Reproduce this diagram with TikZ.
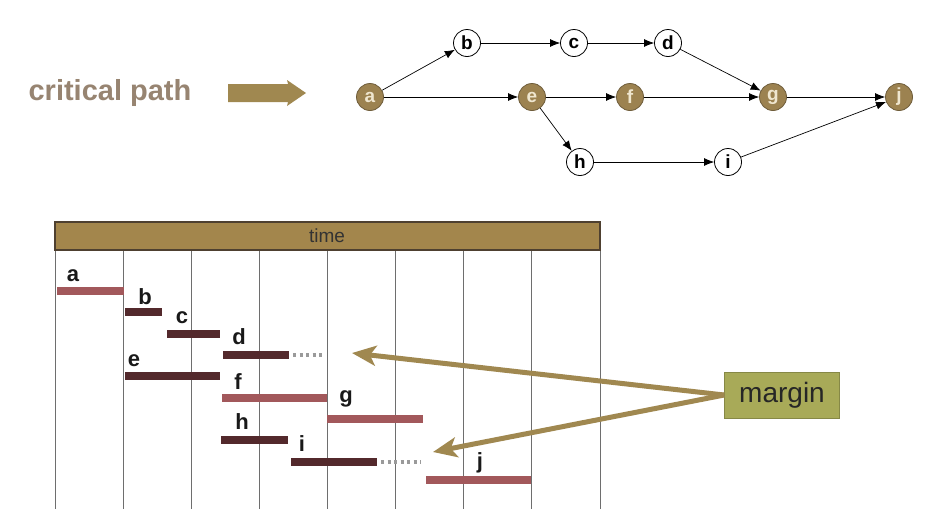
\documentclass[tikz,border=0pt]{standalone}
\usepackage{fontspec}
\setmainfont{Liberation Sans}
\usetikzlibrary{arrows.meta}

\definecolor{pathtan}{HTML}{A08850}
\definecolor{nodebrown}{HTML}{9C8250}
\definecolor{nodeedge}{HTML}{6E5C3A}
\definecolor{cream}{HTML}{EFE6CF}
\definecolor{titlegrey}{HTML}{978471}
\definecolor{critbar}{HTML}{A2585B}
\definecolor{slackbar}{HTML}{53292C}
\definecolor{headbrown}{HTML}{A3864C}
\definecolor{headedge}{HTML}{4E4030}
\definecolor{gridgrey}{HTML}{6E6E6E}
\definecolor{marginfill}{HTML}{A8AA58}
\definecolor{floatgrey}{HTML}{9A9A9A}

\tikzset{
  task/.style={circle, draw=black, line width=0.8pt, fill=white, minimum size=27pt,
    inner sep=0pt, font=\bfseries\fontsize{19}{19}\selectfont},
  crittask/.style={task, draw=nodeedge, fill=nodebrown, text=cream},
  link/.style={-{Latex[length=10pt,width=8pt]}, line width=0.7pt},
  gridline/.style={draw=gridgrey, line width=0.9pt},
  critfill/.style={fill=critbar},
  slackfill/.style={fill=slackbar},
  barlabel/.style={inner sep=0pt, font=\bfseries\fontsize{22}{22}\selectfont, text=black!90},
  float/.style={draw=floatgrey, line width=3.5pt, dash pattern=on 3pt off 3.5pt},
  pointer/.style={draw=pathtan, line width=5pt,
    -{Stealth[length=24pt,width=20pt,inset=6pt]}},
}

\begin{document}
\begin{tikzpicture}[x=1pt,y=-1pt]
\path[use as bounding box, fill=white] (0,0) rectangle (928,509);

% ---------- network of activities ----------
\node[inner sep=0pt, text=titlegrey, font=\bfseries\fontsize{29}{29}\selectfont]
  (title) at (110,93) {critical path};
\fill[pathtan] (228,84) -- (288,84) -- (287,80) -- (306,93) -- (287,106)
  -- (288,102) -- (228,102) -- cycle;

\node[crittask] (a) at (370,97) {a};
\node[task]     (b) at (467,43) {b};
\node[task]     (c) at (574,43) {c};
\node[task]     (d) at (668,43) {d};
\node[crittask] (e) at (532,97) {e};
\node[crittask] (f) at (630,97) {f};
\node[crittask] (g) at (773,97) {g};
\node[crittask] (j) at (899,97) {j};
\node[task]     (h) at (580,162) {h};
\node[task]     (i) at (728,162) {i};

\draw[link] (a) -- (b);
\draw[link] (b) -- (c);
\draw[link] (c) -- (d);
\draw[link] (d) -- (g);
\draw[link] (a) -- (e);
\draw[link] (e) -- (f);
\draw[link] (f) -- (g);
\draw[link] (g) -- (j);
\draw[link] (e) -- (h);
\draw[link] (h) -- (i);
\draw[link] (i) -- (j);

% ---------- time chart ----------
\foreach \gx in {55,123,191,259,327,395,463,531,600}
  \draw[gridline] (\gx,250) -- (\gx,509);
\draw[headedge, line width=1.2pt, fill=headbrown] (55,222) rectangle (600,250);
\node[inner sep=0pt, text=black!80, font=\fontsize{19}{19}\selectfont]
  (timehead) at (327,236) {time};

% activity bars
\fill[critfill]  (57,287)  rectangle (124,295);
\fill[slackfill] (125,308) rectangle (162,316);
\fill[slackfill] (167,330) rectangle (220,338);
\fill[slackfill] (223,351) rectangle (289,359);
\fill[slackfill] (125,372) rectangle (220,380);
\fill[critfill]  (222,394) rectangle (327,402);
\fill[critfill]  (327,415) rectangle (423,423);
\fill[slackfill] (221,436) rectangle (288,444);
\fill[slackfill] (291,458) rectangle (377,466);
\fill[critfill]  (426,476) rectangle (531,484);

% slack shown as dotted extensions
\draw[float] (293,355) -- (324,355);
\draw[float] (381,462) -- (421,462);

\node[barlabel] (la) at (73,276)  {a};
\node[barlabel] (lb) at (145,297) {b};
\node[barlabel] (lc) at (182,318) {c};
\node[barlabel] (ld) at (239,337) {d};
\node[barlabel] (le) at (134,361) {e};
\node[barlabel] (lf) at (238,382) {f};
\node[barlabel] (lg) at (346,399) {g};
\node[barlabel] (lh) at (242,422) {h};
\node[barlabel] (li) at (302,444) {i};
\node[barlabel] (lj) at (480,463) {j};

% margin callout
\node[fill=marginfill, draw=marginfill!80!black, line width=0.6pt,
  minimum width=115pt, minimum height=46pt, inner sep=0pt,
  font=\fontsize{28}{28}\selectfont, text=black!85] (margin) at (782,395) {margin};
\coordinate (slackD) at (352,353);
\coordinate (slackI) at (433,452);
\draw[pointer] (margin.west) -- (slackD);
\draw[pointer] (margin.west) -- (slackI);
\end{tikzpicture}
\end{document}
